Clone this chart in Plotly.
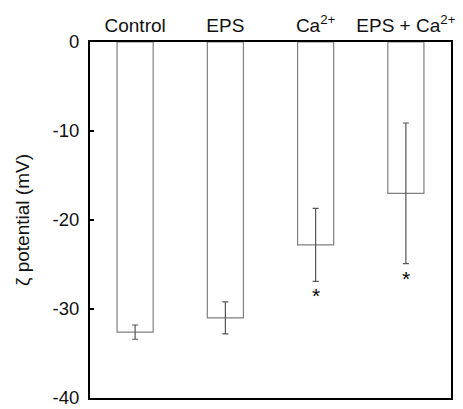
import plotly.graph_objects as go

categories = ["Control", "EPS", "Ca<sup>2+</sup>", "EPS + Ca<sup>2+</sup>"]
zeta_mean = [-32.6, -31.0, -22.8, -17.0]
zeta_err = [0.8, 1.8, 4.1, 7.9]
significant = [False, False, True, True]
y_ticks = [0, -10, -20, -30, -40]

FONT = "Liberation Sans, Arial, sans-serif"

fig = go.Figure()
fig.add_trace(go.Bar(
    x=categories, y=zeta_mean, width=0.4,
    marker=dict(color="white", line=dict(color="#808080", width=1.2)),
    error_y=dict(type="data", array=zeta_err, visible=True, color="#555555",
                 thickness=1.2, width=3),
    showlegend=False,
))

for c, m, e, s in zip(categories, zeta_mean, zeta_err, significant):
    if s:
        fig.add_annotation(x=c, y=m - e, text="*", showarrow=False,
                           yanchor="top", yshift=-1,
                           font=dict(family=FONT, size=21, color="black"))

fig.update_layout(
    width=463, height=409,
    margin=dict(l=90, r=12, t=42, b=11),
    paper_bgcolor="white", plot_bgcolor="white",
    font=dict(family=FONT, size=19, color="#111111"),
    bargap=0.6,
)
fig.update_xaxes(side="top", showline=True, mirror=True, linecolor="black",
                 linewidth=2, ticks="", showgrid=False, zeroline=False,
                 automargin=False, tickfont=dict(size=19))
fig.update_yaxes(range=[-40, 0], tickvals=y_ticks, ticktext=[str(v) for v in y_ticks],
                 showline=True, mirror=True, linecolor="black", linewidth=2,
                 ticks="inside", ticklen=4, tickwidth=2, tickcolor="black",
                 showgrid=False, zeroline=False, ticklabeloverflow="allow",
                 ticklabelstandoff=5, automargin=False,
                 title=dict(text="ζ potential (mV)", font=dict(size=19), standoff=18),
                 tickfont=dict(size=18.5))

fig.write_html("out.html")
